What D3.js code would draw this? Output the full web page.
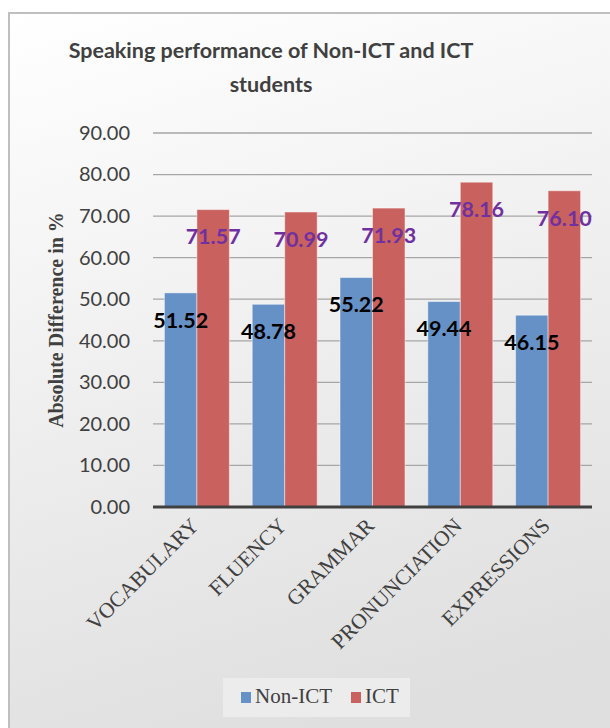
<!DOCTYPE html>
<html>
<head>
<meta charset="utf-8">
<script src="https://cdn.jsdelivr.net/npm/d3@7"></script>
<style>
  html, body { margin: 0; padding: 0; background: #fff; }
  svg { display: block; }
</style>
</head>
<body>
<svg id="chart" width="610" height="728"></svg>
<script>
// Speaking performance chart - grouped bars (Non-ICT vs ICT)

const categories = ['VOCABULARY', 'FLUENCY', 'GRAMMAR', 'PRONUNCIATION', 'EXPRESSIONS'];
const seriesNames = ['Non-ICT', 'ICT'];
const nonIctValues = [51.52, 48.78, 55.22, 49.44, 46.15];
const ictValues = [71.57, 70.99, 71.93, 78.16, 76.10];
const yTickValues = [0, 10, 20, 30, 40, 50, 60, 70, 80, 90];
const titleLines = ['Speaking performance of Non-ICT and ICT', 'students'];
const yAxisTitle = 'Absolute Difference in %';

const colors = { 'Non-ICT': '#6591c7', 'ICT': '#c9625f' };
const labelColors = { 'Non-ICT': '#000000', 'ICT': '#7030a0' };

const svg = d3.select('#chart');

// Background frame with soft gradient
const defs = svg.append('defs');
const grad = defs.append('linearGradient')
    .attr('id', 'bg')
    .attr('x1', 0).attr('y1', 0).attr('x2', 0.25).attr('y2', 1);
grad.append('stop').attr('offset', '0%').attr('stop-color', '#ffffff');
grad.append('stop').attr('offset', '100%').attr('stop-color', '#dfdfdf');

svg.append('rect')
    .attr('x', 9).attr('y', 13)
    .attr('width', 640).attr('height', 760)
    .attr('fill', 'url(#bg)')
    .attr('stroke', '#bfbfbf')
    .attr('stroke-width', 2);

// Title
svg.append('text')
    .attr('font-family', 'Lato, sans-serif')
    .attr('font-weight', 'bold')
    .attr('font-size', 21.5)
    .attr('fill', '#404040')
    .attr('text-anchor', 'middle')
    .selectAll('tspan')
    .data(titleLines)
    .join('tspan')
    .attr('x', 271)
    .attr('y', (d, i) => 58 + i * 34)
    .text(d => d);

// Scales
const plot = { left: 153, right: 592, top: 133, bottom: 507 };

const x = d3.scaleBand()
    .domain(categories)
    .range([plot.left, plot.right])
    .paddingInner(0.26)
    .paddingOuter(0.13);

const xInner = d3.scaleBand()
    .domain(seriesNames)
    .range([0, x.bandwidth()]);

const y = d3.scaleLinear()
    .domain([0, 90])
    .range([plot.bottom, plot.top]);

// Gridlines
svg.append('g')
    .selectAll('line')
    .data(yTickValues.filter(d => d > 0))
    .join('line')
    .attr('x1', plot.left).attr('x2', plot.right)
    .attr('y1', d => y(d)).attr('y2', d => y(d))
    .attr('stroke', '#a6a6a6')
    .attr('stroke-width', 1.3);

// Y axis labels
const yAxis = svg.append('g')
    .attr('transform', `translate(${plot.left},0)`)
    .call(d3.axisLeft(y).tickValues(yTickValues).tickSize(0).tickPadding(23)
        .tickFormat(d3.format('.2f')));
yAxis.select('.domain').remove();
yAxis.selectAll('text')
    .attr('font-family', 'Lato, sans-serif')
    .attr('font-size', 20)
    .attr('fill', '#404040');

// Y axis title
svg.append('text')
    .attr('transform', 'translate(63,320) rotate(-90)')
    .attr('text-anchor', 'middle')
    .attr('font-family', '"Liberation Serif", "Times New Roman", serif')
    .attr('font-weight', 'bold')
    .attr('font-size', 20)
    .attr('fill', '#404040')
    .text(yAxisTitle);

// Bars
const rows = categories.map((c, i) => ({
    category: c,
    values: [
        { series: 'Non-ICT', value: nonIctValues[i] },
        { series: 'ICT', value: ictValues[i] }
    ]
}));

const groups = svg.append('g')
    .selectAll('g')
    .data(rows)
    .join('g')
    .attr('transform', d => `translate(${x(d.category)},0)`);

groups.selectAll('rect')
    .data(d => d.values)
    .join('rect')
    .attr('x', d => xInner(d.series))
    .attr('y', d => y(d.value))
    .attr('width', xInner.bandwidth())
    .attr('height', d => y(0) - y(d.value))
    .attr('fill', d => colors[d.series])
    .attr('stroke', 'rgba(255,255,255,0.45)')
    .attr('stroke-width', 1);

// Zero baseline
svg.append('line')
    .attr('x1', plot.left).attr('x2', plot.right)
    .attr('y1', y(0)).attr('y2', y(0))
    .attr('stroke', '#404040')
    .attr('stroke-width', 3);

// Data labels
groups.selectAll('text.value')
    .data(d => d.values)
    .join('text')
    .attr('class', 'value')
    .attr('x', d => xInner(d.series) + xInner.bandwidth() / 2)
    .attr('y', d => y(d.value) + 27)
    .attr('dy', '0.36em')
    .attr('text-anchor', 'middle')
    .attr('font-family', 'Lato, sans-serif')
    .attr('font-weight', 'bold')
    .attr('font-size', 21.5)
    .attr('fill', d => labelColors[d.series])
    .text(d => d.value.toFixed(2));

// X axis labels
const xAxis = svg.append('g')
    .attr('transform', `translate(0,${plot.bottom})`)
    .call(d3.axisBottom(x).tickSize(0));
xAxis.select('.domain').remove();
xAxis.selectAll('text')
    .attr('x', 0).attr('y', 0).attr('dy', 0)
    .attr('transform', 'translate(3,20) rotate(-45)')
    .attr('text-anchor', 'end')
    .attr('font-family', '"Liberation Serif", "Times New Roman", serif')
    .attr('font-size', 21.5)
    .attr('fill', '#404040');

// Legend
const legend = svg.append('g');
legend.append('rect')
    .attr('x', 223).attr('y', 678)
    .attr('width', 187).attr('height', 39)
    .attr('fill', '#ececec');

const legendX = { 'Non-ICT': 241, 'ICT': 351 };
const items = legend.selectAll('g.item')
    .data(seriesNames)
    .join('g')
    .attr('class', 'item')
    .attr('transform', d => `translate(${legendX[d]},0)`);
items.append('rect')
    .attr('x', 0).attr('y', 692)
    .attr('width', 10).attr('height', 11)
    .attr('fill', d => colors[d]);
items.append('text')
    .attr('x', 14).attr('y', 703)
    .attr('font-family', '"Liberation Serif", "Times New Roman", serif')
    .attr('font-size', 21)
    .attr('fill', '#404040')
    .text(d => d);
</script>
</body>
</html>
